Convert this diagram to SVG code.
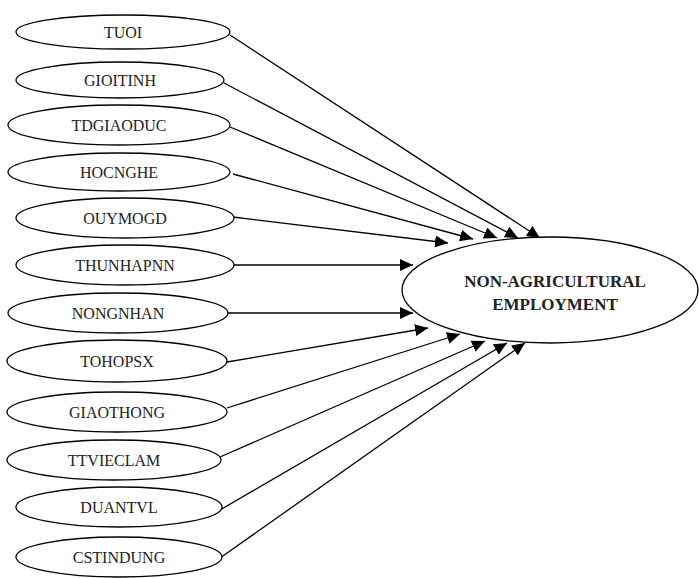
<svg xmlns="http://www.w3.org/2000/svg" width="699" height="578" viewBox="0 0 699 578">
<style>
.n ellipse{fill:#fff;stroke:#000;stroke-width:1.3}
text{font-family:'Liberation Serif','Times New Roman',serif;font-size:16px;fill:#222;text-anchor:middle}
#target text{font-weight:bold;font-size:17px}
#edges line{stroke:#000;stroke-width:1.3;marker-end:url(#ah)}
</style>
<defs>
<marker id="ah" markerUnits="userSpaceOnUse" markerWidth="14" markerHeight="12" refX="13" refY="6" orient="auto">
<path d="M0,0 L13,6 L0,12 Z" fill="#000"/>
</marker>
</defs>
<rect width="699" height="578" fill="#fff"/>
<g id="edges">
<line x1="230" y1="35" x2="540" y2="238"/>
<line x1="224" y1="83" x2="518" y2="238"/>
<line x1="230" y1="127" x2="497" y2="238"/>
<line x1="233" y1="174" x2="473" y2="239"/>
<line x1="233" y1="217" x2="448" y2="243"/>
<line x1="233" y1="265" x2="413" y2="265"/>
<line x1="227" y1="313" x2="413" y2="313"/>
<line x1="227" y1="362" x2="428" y2="328"/>
<line x1="227" y1="408" x2="460" y2="334"/>
<line x1="220" y1="457" x2="485" y2="341"/>
<line x1="220" y1="510" x2="507" y2="343"/>
<line x1="220" y1="558" x2="525" y2="343"/>
</g>
<g id="tuoi" class="n"><ellipse cx="123" cy="32" rx="107" ry="17"/><text x="123" y="38" font-family="Liberation Serif, serif">TUOI</text></g>
<g id="gioitinh" class="n"><ellipse cx="120" cy="80" rx="104" ry="18"/><text x="120" y="86" font-family="Liberation Serif, serif">GIOITINH</text></g>
<g id="tdgiaoduc" class="n"><ellipse cx="119" cy="125" rx="111" ry="20"/><text x="119" y="131" font-family="Liberation Serif, serif">TDGIAODUC</text></g>
<g id="hocnghe" class="n"><ellipse cx="119" cy="172" rx="111" ry="19"/><text x="119" y="178" font-family="Liberation Serif, serif">HOCNGHE</text></g>
<g id="ouymogd" class="n"><ellipse cx="125" cy="218" rx="109" ry="20"/><text x="125" y="224" font-family="Liberation Serif, serif">OUYMOGD</text></g>
<g id="thunhappnn" class="n"><ellipse cx="125" cy="265" rx="109" ry="20"/><text x="125" y="271" font-family="Liberation Serif, serif">THUNHAPNN</text></g>
<g id="nongnhan" class="n"><ellipse cx="118" cy="313" rx="110" ry="20"/><text x="118" y="319" font-family="Liberation Serif, serif">NONGNHAN</text></g>
<g id="tohopsx" class="n"><ellipse cx="117" cy="361" rx="110" ry="21"/><text x="117" y="367" font-family="Liberation Serif, serif">TOHOPSX</text></g>
<g id="giaothong" class="n"><ellipse cx="117" cy="412" rx="110" ry="20"/><text x="117" y="418" font-family="Liberation Serif, serif">GIAOTHONG</text></g>
<g id="ttvieclam" class="n"><ellipse cx="114" cy="460" rx="107" ry="20"/><text x="114" y="466" font-family="Liberation Serif, serif">TTVIECLAM</text></g>
<g id="duantvl" class="n"><ellipse cx="119" cy="507" rx="103" ry="20"/><text x="119" y="513" font-family="Liberation Serif, serif">DUANTVL</text></g>
<g id="cstindung" class="n"><ellipse cx="119" cy="557" rx="103" ry="20"/><text x="119" y="563" font-family="Liberation Serif, serif">CSTINDUNG</text></g>
<g id="target" class="n"><ellipse cx="550" cy="290" rx="148" ry="53"/><text x="555" y="287" font-family="Liberation Serif, serif">NON-AGRICULTURAL</text><text x="555" y="310" font-family="Liberation Serif, serif">EMPLOYMENT</text></g>
</svg>
